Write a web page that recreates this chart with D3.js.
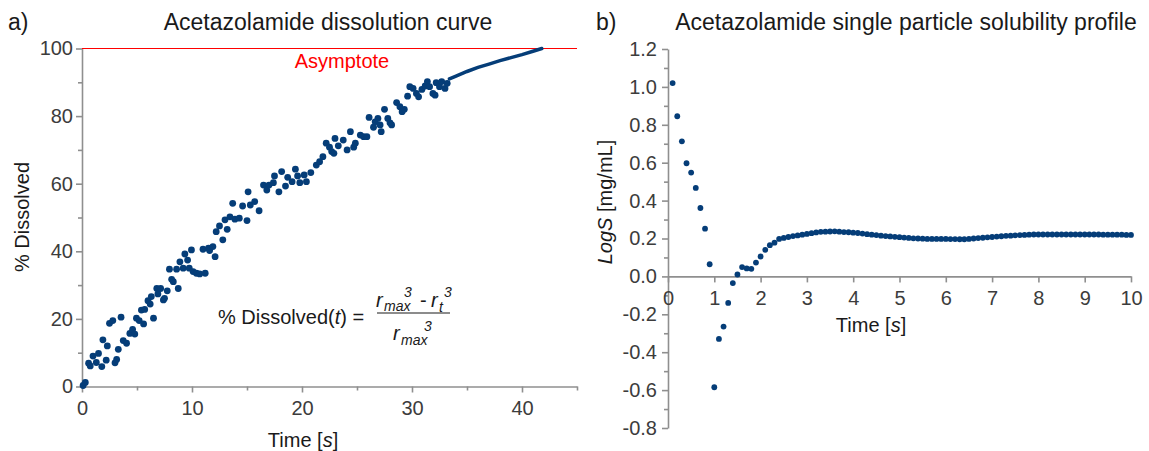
<!DOCTYPE html>
<html>
<head>
    <script type="text/javascript" src="https://d3js.org/d3.v7.min.js"></script>
    <style>
        body { margin: 0; background: #fff; }
        svg { display: block; font-family: "Liberation Sans", Arial, sans-serif; }
        .axis path, .axis line { stroke: #8f8f8f; stroke-width: 1.6px; }
        .axis text { fill: #3c3c3c; font-size: 20px; font-family: "Liberation Sans", Arial, sans-serif; }
    </style>
</head>
<body>
<div id="container"></div>
<script>
    // panel a) dissolution data: time [s] and % dissolved
    var dissTime = [0.1, 0.3, 0.6, 0.75, 1.0, 1.3, 1.5, 1.8, 1.9, 2.2, 2.3, 2.5, 2.8, 3.0, 3.15, 3.3, 3.55, 3.75, 4.05, 4.35,
        4.6, 4.8, 4.95, 5.2, 5.4, 5.6, 5.7, 6.0, 6.2, 6.3, 6.5, 6.8, 6.9, 7.15, 7.4, 7.5, 7.75, 7.95, 8.15, 8.3,
        8.6, 8.75, 8.9, 9.2, 9.35, 9.6, 9.75, 9.95, 10.1, 10.4, 10.7, 11.0, 11.2, 11.5, 11.6, 11.9, 12.1, 12.2, 12.5, 12.8,
        13.0, 13.2, 13.45, 13.7, 13.9, 14.3, 14.6, 15.0, 15.1, 15.3, 15.7, 16.1, 16.5, 16.8, 17.0, 17.4, 17.5, 17.9, 18.15, 18.5,
        18.7, 19.1, 19.4, 19.6, 19.8, 20.2, 20.4, 20.8, 21.3, 21.6, 21.9, 22.2, 22.5, 22.7, 22.9, 23.0, 23.3, 23.75, 24.1, 24.4,
        24.7, 24.85, 25.3, 25.6, 25.9, 26.1, 26.5, 26.65, 26.9, 27.1, 27.2, 27.5, 27.8, 28.0, 28.15, 28.6, 28.9, 29.1, 29.3, 29.6,
        29.8, 30.1, 30.4, 30.6, 30.9, 31.2, 31.4, 31.6, 31.9, 32.1, 32.2, 32.5, 32.7, 33.0, 33.2];
    var dissPct = [0.3, 1.2, 6.9, 6.1, 9.0, 7.1, 9.8, 5.9, 13.8, 7.8, 12.0, 18.7, 19.5, 7.0, 8.0, 11.0, 20.5, 13.6, 12.8, 15.7,
        16.9, 15.5, 20.2, 19.5, 22.6, 18.5, 22.8, 25.4, 24.4, 26.6, 20.2, 29.0, 27.4, 29.0, 25.6, 26.1, 28.3, 34.7, 31.7, 31.0,
        34.7, 29.0, 36.9, 35.0, 39.2, 37.4, 35.0, 40.4, 34.0, 33.5, 33.3, 40.6, 33.5, 40.9, 40.2, 41.4, 38.4, 45.8, 47.5, 43.4,
        49.3, 46.5, 50.2, 54.2, 49.5, 49.8, 53.4, 49.1, 57.6, 53.7, 54.7, 52.0, 59.6, 58.1, 59.6, 60.3, 62.3, 57.6, 63.6, 59.3,
        61.9, 60.6, 64.3, 62.3, 60.3, 62.6, 60.6, 63.3, 65.5, 66.5, 68.0, 72.0, 70.8, 69.5, 69.0, 73.4, 71.2, 72.9, 70.0, 75.4,
        70.8, 72.0, 74.4, 73.9, 73.9, 79.6, 76.7, 78.3, 79.3, 77.4, 75.4, 82.0, 79.3, 78.0, 77.4, 84.0, 82.8, 81.3, 82.0, 85.9,
        88.7, 88.2, 86.7, 85.7, 87.9, 88.9, 90.2, 88.7, 86.7, 86.2, 89.9, 88.7, 90.2, 88.2, 89.7];
    // fitted tail of the curve
    var fitTime = [33.4, 34, 35, 36, 37, 38, 39, 40, 41, 41.8];
    var fitPct = [91.0, 91.8, 93.2, 94.4, 95.4, 96.4, 97.3, 98.2, 99.2, 100];
    var asymptote = 100;

    // panel b) single particle solubility profile
    var solTime = [];
    for (var i = 1; i <= 100; i++) solTime.push(i / 10);
    var logS = [1.02, 0.845, 0.713, 0.597, 0.548, 0.467, 0.361, 0.252, 0.064, -0.585,
        -0.33, -0.265, -0.14, -0.035, 0.01, 0.049, 0.042, 0.04, 0.073, 0.105,
        0.14, 0.165, 0.178, 0.198, 0.203, 0.208, 0.213, 0.216, 0.22, 0.224,
        0.228, 0.232, 0.235, 0.236, 0.237, 0.238, 0.236, 0.234, 0.233, 0.231,
        0.229, 0.226, 0.223, 0.22, 0.218, 0.215, 0.213, 0.211, 0.209, 0.207,
        0.205, 0.203, 0.201, 0.2, 0.199, 0.198, 0.198, 0.198, 0.198, 0.198,
        0.197, 0.197, 0.196, 0.196, 0.198, 0.2, 0.202, 0.204, 0.206, 0.208,
        0.21, 0.212, 0.214, 0.215, 0.217, 0.218, 0.219, 0.22, 0.221, 0.221,
        0.221, 0.221, 0.221, 0.221, 0.221, 0.221, 0.221, 0.221, 0.221, 0.221,
        0.221, 0.221, 0.221, 0.22, 0.22, 0.22, 0.22, 0.22, 0.219, 0.219];

    // tick values
    var xTicksA = [0, 10, 20, 30, 40];
    var xMinorA = [5, 15, 25, 35, 45];
    var yTicksA = [0, 20, 40, 60, 80, 100];
    var yMinorA = [10, 30, 50, 70, 90];
    var xTicksB = [0, 1, 2, 3, 4, 5, 6, 7, 8, 9, 10];
    var yTicksB = [-0.8, -0.6, -0.4, -0.2, 0, 0.2, 0.4, 0.6, 0.8, 1.0, 1.2];
    var yMinorB = [-0.7, -0.5, -0.3, -0.1, 0.1, 0.3, 0.5, 0.7, 0.9, 1.1];

    var dotColor = "#053d78";
    var width = 1149, height = 451;

    var svg = d3.select("#container").append("svg")
        .attr("width", width)
        .attr("height", height);

    // ---------- panel a ----------
    var xA = d3.scaleLinear().domain([0, 45]).range([82, 577]);
    var yA = d3.scaleLinear().domain([0, 100]).range([386.5, 48.5]);

    svg.append("g").attr("class", "axis")
        .attr("transform", "translate(0," + yA(0) + ")")
        .call(d3.axisBottom(xA).tickValues(xTicksA).tickSize(6).tickSizeOuter(0).tickPadding(8));
    svg.append("g").attr("class", "axis")
        .attr("transform", "translate(0," + yA(0) + ")")
        .call(d3.axisBottom(xA).tickValues(xMinorA).tickSize(4).tickFormat(""))
        .select(".domain").remove();

    svg.append("g").attr("class", "axis")
        .attr("transform", "translate(" + xA(0) + ",0)")
        .call(d3.axisLeft(yA).tickValues(yTicksA).tickSize(6).tickSizeOuter(0).tickPadding(3));
    svg.append("g").attr("class", "axis")
        .attr("transform", "translate(" + xA(0) + ",0)")
        .call(d3.axisLeft(yA).tickValues(yMinorA).tickSize(4).tickFormat(""))
        .select(".domain").remove();

    // asymptote
    svg.append("line")
        .attr("x1", xA(0)).attr("x2", xA(45))
        .attr("y1", yA(asymptote)).attr("y2", yA(asymptote))
        .style("stroke", "#ff0000").style("stroke-width", 1.2);
    svg.append("text")
        .attr("x", 342).attr("y", 68)
        .style("text-anchor", "middle")
        .style("font-size", "20px")
        .style("fill", "#ff0000")
        .text("Asymptote");

    // fitted tail
    var fitLine = d3.line()
        .x(function(d, i) { return xA(fitTime[i]); })
        .y(function(d) { return yA(d); });
    svg.append("path")
        .datum(fitPct)
        .attr("d", fitLine)
        .style("fill", "none")
        .style("stroke", dotColor)
        .style("stroke-width", 3.5)
        .style("stroke-linecap", "round");

    svg.append("g").selectAll("circle")
        .data(dissPct)
        .enter().append("circle")
        .attr("cx", function(d, i) { return xA(dissTime[i]); })
        .attr("cy", function(d) { return yA(d); })
        .attr("r", 3.4)
        .style("fill", dotColor);

    // titles and labels
    svg.append("text").attr("x", 8).attr("y", 30)
        .style("font-size", "23px").style("fill", "#1a1a1a").text("a)");
    svg.append("text").attr("x", 328).attr("y", 30)
        .style("text-anchor", "middle").style("font-size", "23px").style("fill", "#1a1a1a")
        .text("Acetazolamide dissolution curve");

    var tA = svg.append("text").attr("x", 303).attr("y", 447)
        .style("text-anchor", "middle").style("font-size", "20px").style("fill", "#1a1a1a");
    tA.append("tspan").text("Time [");
    tA.append("tspan").style("font-style", "italic").text("s");
    tA.append("tspan").text("]");

    svg.append("text")
        .attr("transform", "translate(29,217) rotate(-90)")
        .style("text-anchor", "middle").style("font-size", "20px").style("fill", "#1a1a1a")
        .text("% Dissolved");

    // formula
    var f = svg.append("g").style("fill", "#1a1a1a");
    var fl = f.append("text").attr("x", 218).attr("y", 324).style("font-size", "20px");
    fl.append("tspan").text("% Dissolved(");
    fl.append("tspan").style("font-style", "italic").text("t");
    fl.append("tspan").text(") =");
    function piece(txt, x, y, size, italic) {
        f.append("text").attr("x", x).attr("y", y)
            .style("font-size", size + "px")
            .style("font-style", italic ? "italic" : "normal")
            .text(txt);
    }
    piece("r", 376, 307, 20, true);
    piece("max", 384, 311, 14, true);
    piece("3", 404, 297, 14, true);
    piece("-", 420, 307, 20, false);
    piece("r", 431, 307, 20, true);
    piece("t", 439, 312, 14, true);
    piece("3", 444, 297, 14, true);
    f.append("line").attr("x1", 377).attr("x2", 450).attr("y1", 313).attr("y2", 313)
        .style("stroke", "#1a1a1a").style("stroke-width", 1.2);
    piece("r", 393, 340, 20, true);
    piece("max", 401, 345, 14, true);
    piece("3", 424, 331, 14, true);

    // ---------- panel b ----------
    var xB = d3.scaleLinear().domain([0, 10]).range([668, 1131]);
    var yB = d3.scaleLinear().domain([-0.8, 1.2]).range([428, 49]);

    svg.append("g").attr("class", "axis")
        .attr("transform", "translate(" + xB(0) + ",0)")
        .call(d3.axisLeft(yB).tickValues(yTicksB).tickSize(6).tickSizeOuter(0).tickPadding(5)
            .tickFormat(function(d) { return d.toFixed(1); }));
    svg.append("g").attr("class", "axis")
        .attr("transform", "translate(" + xB(0) + ",0)")
        .call(d3.axisLeft(yB).tickValues(yMinorB).tickSize(4).tickFormat(""))
        .select(".domain").remove();

    svg.append("g").attr("class", "axis")
        .attr("transform", "translate(0," + yB(0) + ")")
        .call(d3.axisBottom(xB).tickValues(xTicksB).tickSize(6).tickSizeOuter(0).tickPadding(8));

    svg.append("g").selectAll("circle")
        .data(logS)
        .enter().append("circle")
        .attr("cx", function(d, i) { return xB(solTime[i]); })
        .attr("cy", function(d) { return yB(d); })
        .attr("r", 2.9)
        .style("fill", dotColor);

    svg.append("text").attr("x", 596).attr("y", 30)
        .style("font-size", "23px").style("fill", "#1a1a1a").text("b)");
    svg.append("text").attr("x", 906).attr("y", 30)
        .style("text-anchor", "middle").style("font-size", "23px").style("fill", "#1a1a1a")
        .text("Acetazolamide single particle solubility profile");

    var tB = svg.append("text").attr("x", 871).attr("y", 332)
        .style("text-anchor", "middle").style("font-size", "20px").style("fill", "#1a1a1a");
    tB.append("tspan").text("Time [");
    tB.append("tspan").style("font-style", "italic").text("s");
    tB.append("tspan").text("]");

    var yl = svg.append("text")
        .attr("transform", "translate(612,202) rotate(-90)")
        .style("text-anchor", "middle").style("font-size", "20px").style("fill", "#1a1a1a");
    yl.append("tspan").style("font-style", "italic").text("LogS");
    yl.append("tspan").text(" [mg/mL]");
</script>
</body>
</html>
